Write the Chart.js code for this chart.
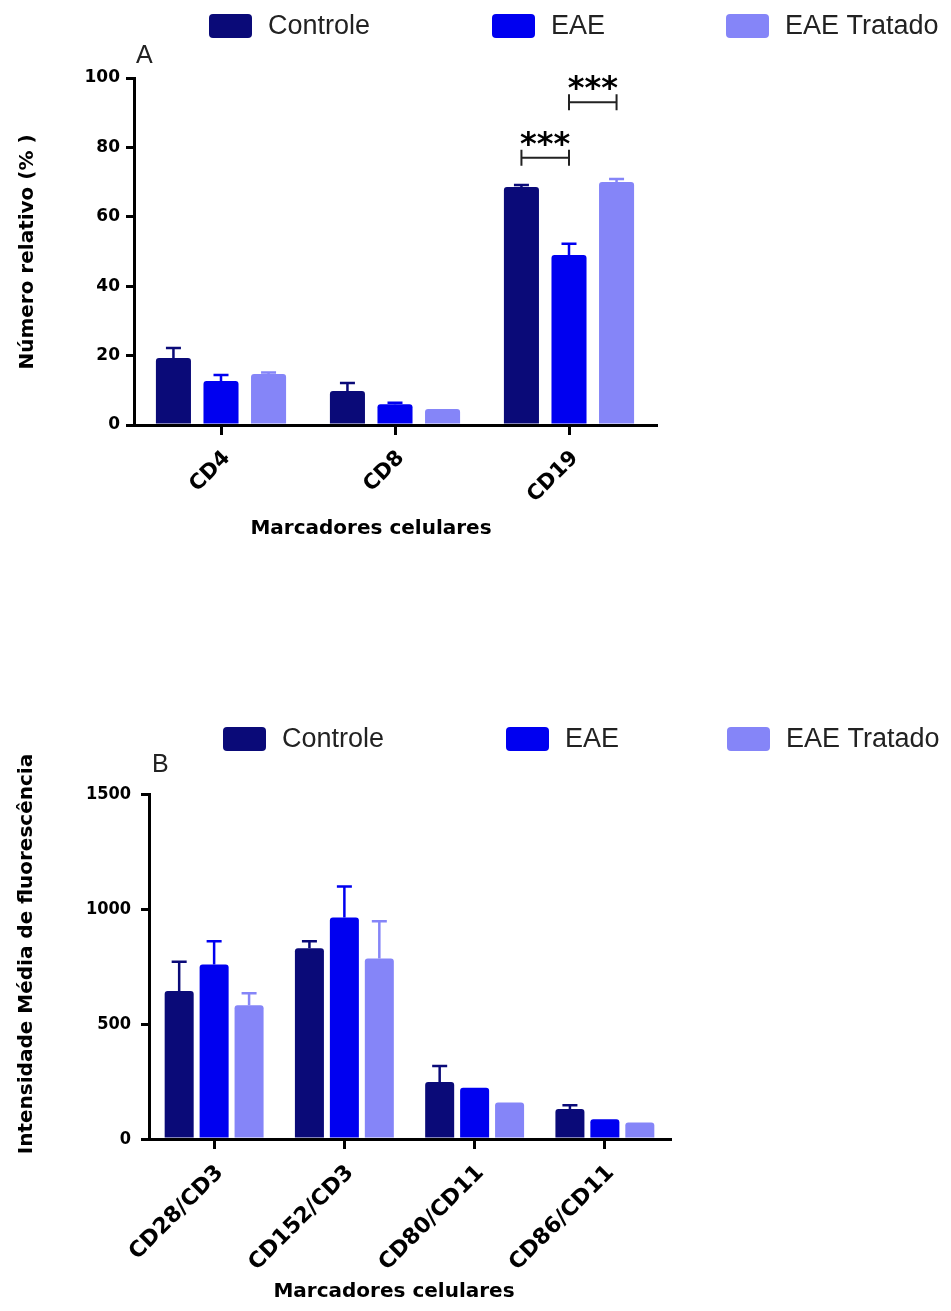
<!DOCTYPE html>
<html>
<head>
<meta charset="utf-8">
<script src="https://cdn.jsdelivr.net/npm/chart.js@4.4.1/dist/chart.umd.min.js"></script>
<style>
  body { margin: 0; background: #fff; width: 951px; height: 1311px; position: relative; overflow: hidden; }
  .panel { position: absolute; left: 0; width: 951px; }
</style>
</head>
<body>
<div class="panel" style="top:0;height:560px"><canvas id="chartA"></canvas></div>
<div class="panel" style="top:690px;height:621px"><canvas id="chartB"></canvas></div>
<script>
// groups shared by both panels
const groups = ['Controle', 'EAE', 'EAE Tratado'];
const colors = ['#0a0a78', '#0000f0', '#8585f8'];

// panel A - relative number (%)
const markersA = ['CD4', 'CD8', 'CD19'];
const controleA = [19.3, 9.8, 68.6];
const eaeA = [12.7, 6.0, 49.0];
const tratadoA = [14.7, 4.6, 70.0];
const controleErrA = [2.9, 2.3, 0.6];
const eaeErrA = [1.7, 0.4, 3.2];
const tratadoErrA = [0.4, 0, 0.9];
const ticksA = [0, 20, 40, 60, 80, 100];
// [category, from group, to group, y value, label]
const sigA = [[2, 0, 1, 77, '***'], [2, 1, 2, 93, '***']];

// panel B - mean fluorescence intensity
const markersB = ['CD28/CD3', 'CD152/CD3', 'CD80/CD11', 'CD86/CD11'];
const controleB = [644, 829, 248, 130];
const eaeB = [759, 963, 223, 86];
const tratadoB = [581, 785, 159, 72];
const controleErrB = [127, 31, 69, 17];
const eaeErrB = [101, 135, 0, 0];
const tratadoErrB = [53, 162, 0, 0];
const ticksB = [0, 500, 1000, 1500];

// error bars, significance brackets, legend and titles
const extras = {
  id: 'extras',
  afterDatasetsDraw(chart, args, o) {
    const ctx = chart.ctx;
    const y = chart.scales.y;
    ctx.save();
    chart.data.datasets.forEach((ds, di) => {
      chart.getDatasetMeta(di).data.forEach((bar, i) => {
        const e = ds.errors[i];
        if (!e) return;
        const top = y.getPixelForValue(ds.data[i] + e);
        ctx.strokeStyle = ds.backgroundColor;
        ctx.lineWidth = 2.5;
        ctx.beginPath();
        ctx.moveTo(bar.x, bar.y);
        ctx.lineTo(bar.x, top);
        ctx.moveTo(bar.x - 7.5, top);
        ctx.lineTo(bar.x + 7.5, top);
        ctx.stroke();
      });
    });
    (o.sig || []).forEach(([c, a, b, v, label]) => {
      const x1 = chart.getDatasetMeta(a).data[c].x;
      const x2 = chart.getDatasetMeta(b).data[c].x;
      const py = y.getPixelForValue(v);
      ctx.strokeStyle = '#222';
      ctx.lineWidth = 2;
      ctx.beginPath();
      ctx.moveTo(x1, py - 8); ctx.lineTo(x1, py + 8);
      ctx.moveTo(x2, py - 8); ctx.lineTo(x2, py + 8);
      ctx.moveTo(x1, py); ctx.lineTo(x2, py);
      ctx.stroke();
      ctx.fillStyle = '#000';
      ctx.font = 'bold 32px "DejaVu Sans"';
      ctx.textAlign = 'center';
      ctx.textBaseline = 'alphabetic';
      ctx.fillText(label, (x1 + x2) / 2, py - 4);
    });
    ctx.restore();
  },
  afterDraw(chart, args, o) {
    const ctx = chart.ctx;
    ctx.save();
    // legend
    ctx.textBaseline = 'middle';
    ctx.textAlign = 'left';
    chart.data.datasets.forEach((ds, i) => {
      const lx = o.legendX[i];
      ctx.fillStyle = ds.backgroundColor;
      ctx.beginPath();
      ctx.roundRect(lx, o.legendY, 43, 24, 4);
      ctx.fill();
      ctx.fillStyle = '#222';
      ctx.font = '27px "Liberation Sans", Arial';
      ctx.fillText(ds.label, lx + 59, o.legendY + 13);
    });
    // panel letter
    ctx.fillStyle = '#222';
    ctx.font = '25px "Liberation Sans", Arial';
    ctx.textBaseline = 'alphabetic';
    ctx.fillText(o.letter[0], o.letter[1], o.letter[2]);
    // axis titles
    ctx.fillStyle = '#000';
    ctx.font = 'bold 20px "DejaVu Sans"';
    ctx.textAlign = 'center';
    ctx.textBaseline = 'middle';
    ctx.fillText(o.xTitle[0], o.xTitle[1], o.xTitle[2]);
    ctx.translate(o.yTitle[1], o.yTitle[2]);
    ctx.rotate(-Math.PI / 2);
    ctx.fillText(o.yTitle[0], 0, 0);
    ctx.restore();
  }
};

function makeChart(id, labels, values, errors, tickValues, cfg) {
  const datasets = groups.map((g, i) => ({
    label: g,
    data: values[i],
    errors: errors[i],
    backgroundColor: colors[i],
    borderRadius: 3,
    borderSkipped: 'start',
    barPercentage: cfg.bp,
    categoryPercentage: cfg.cp
  }));
  return new Chart(document.getElementById(id), {
    type: 'bar',
    data: { labels: labels, datasets: datasets },
    plugins: [extras],
    options: {
      responsive: true,
      maintainAspectRatio: false,
      animation: false,
      layout: { padding: { top: cfg.top, right: cfg.right, left: 0, bottom: 0 } },
      plugins: {
        legend: { display: false },
        tooltip: { enabled: false },
        extras: cfg.extras
      },
      scales: {
        x: {
          grid: { display: true, drawOnChartArea: false, drawTicks: true, tickLength: 10, offset: false, color: '#000', lineWidth: 3 },
          border: { display: true, color: '#000', width: 3 },
          ticks: { color: '#000', font: { family: 'DejaVu Sans', weight: 'bold', size: cfg.xFont }, minRotation: 45, maxRotation: 45, padding: 11, labelOffset: 6 },
          afterFit: s => { s.height = cfg.xHeight; }
        },
        y: {
          min: tickValues[0],
          max: tickValues[tickValues.length - 1],
          afterBuildTicks: s => { s.ticks = tickValues.map(v => ({ value: v })); },
          grid: { display: true, drawOnChartArea: false, drawTicks: true, tickLength: 8, color: '#000', lineWidth: 3 },
          border: { display: true, color: '#000', width: 3 },
          ticks: { color: '#000', font: { family: cfg.yFamily, weight: 'bold', size: cfg.yFont }, padding: cfg.yPad, callback: v => String(v) },
          afterFit: s => { s.width = cfg.yWidth; }
        }
      }
    }
  });
}

makeChart('chartA', markersA, [controleA, eaeA, tratadoA], [controleErrA, eaeErrA, tratadoErrA], ticksA, {
  bp: 0.737, cp: 0.82, top: 78, right: 295, yWidth: 134, xHeight: 135, xFont: 21, yFamily: 'DejaVu Sans', yFont: 17, yPad: 6,
  extras: {
    sig: sigA,
    legendX: [209, 492, 726], legendY: 14,
    letter: ['A', 136, 63],
    xTitle: ['Marcadores celulares', 371, 529],
    yTitle: ['Número relativo (% )', 28, 252]
  }
});

makeChart('chartB', markersB, [controleB, eaeB, tratadoB], [controleErrB, eaeErrB, tratadoErrB], ticksB, {
  bp: 0.83, cp: 0.805, top: 104, right: 281, yWidth: 149, xHeight: 172, xFont: 22, yFamily: 'DejaVu Sans Condensed', yFont: 18, yPad: 10,
  extras: {
    sig: [],
    legendX: [223, 506, 727], legendY: 37,
    letter: ['B', 152, 82],
    xTitle: ['Marcadores celulares', 394, 602],
    yTitle: ['Intensidade Média de fluorescência', 27, 264]
  }
});
</script>
</body>
</html>
